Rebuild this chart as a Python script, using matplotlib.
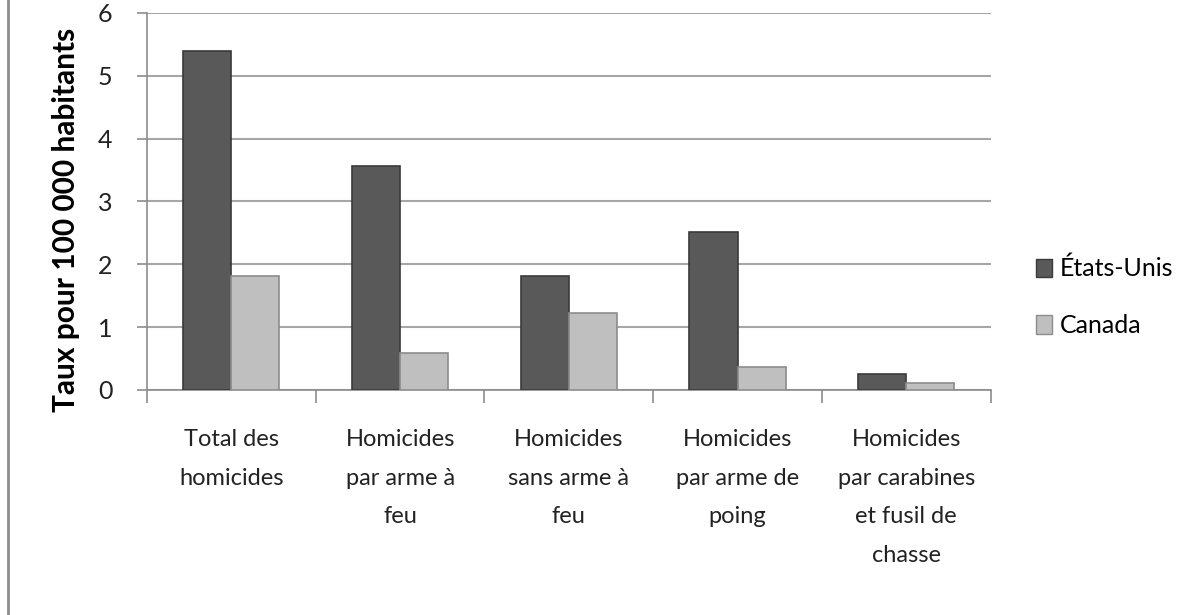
import numpy as np
import matplotlib.pyplot as plt
from matplotlib.lines import Line2D

plt.rcParams['font.family'] = ['Lato', 'DejaVu Sans']

# data
categories = ['Total des\nhomicides', 'Homicides\npar arme à\nfeu', 'Homicides\nsans arme à\nfeu',
              'Homicides\npar arme de\npoing', 'Homicides\npar carabines\net fusil de\nchasse']
us = [5.40, 3.56, 1.82, 2.52, 0.25]
canada = [1.82, 0.58, 1.23, 0.36, 0.11]
series_names = ['États-Unis', 'Canada']

fig = plt.figure(figsize=(11.95, 6.15), dpi=100)
ax = fig.add_axes([0.123, 0.366, 0.706, 0.613])

x = np.arange(len(categories))
w = 0.285
ax.bar(x - w / 2, us, w, color='#595959', edgecolor='#3a3a3a', linewidth=1.2,
       label=series_names[0], zorder=3)
ax.bar(x + w / 2, canada, w, color='#bfbfbf', edgecolor='#8c8c8c', linewidth=1.2,
       label=series_names[1], zorder=3)

ax.set_xlim(-0.5, len(categories) - 0.5)
ax.set_ylim(0, 6)
ax.set_yticks(range(7))
ax.yaxis.grid(True, color='#a6a6a6', linewidth=1.5, zorder=0)

# category boundary ticks on x
ax.set_xticks(np.arange(len(categories) + 1) - 0.5)
ax.set_xticklabels([])
ax.set_xticks(x, minor=True)
ax.set_xticklabels(categories, minor=True, fontsize=17, color='#222222', linespacing=2.05,
                   va='top')
ax.tick_params(axis='x', which='minor', length=0, pad=28)
ax.tick_params(axis='x', which='major', length=9, color='#8c8c8c', width=1.2)
ax.tick_params(axis='y', length=7, color='#8c8c8c', width=1.2, labelsize=18,
               labelcolor='#222222', pad=18)

for s in ['top', 'right']:
    ax.spines[s].set_visible(False)
for s in ['left', 'bottom']:
    ax.spines[s].set_color('#8c8c8c')
    ax.spines[s].set_linewidth(1.2)

ax.set_ylabel('Taux pour 100 000 habitants', fontsize=21.5, fontweight='bold')
ax.yaxis.set_label_coords(-0.079, 0.45)

handles = [plt.Rectangle((0, 0), 1, 1, facecolor='#595959', edgecolor='#3a3a3a'),
           plt.Rectangle((0, 0), 1, 1, facecolor='#bfbfbf', edgecolor='#8c8c8c')]
fig.legend(handles, series_names, loc='center left', bbox_to_anchor=(0.848, 0.517),
           frameon=False, fontsize=18, handlelength=0.65, handleheight=0.75,
           handletextpad=0.3, labelspacing=1.35)

# left frame border
fig.add_artist(Line2D([0.007, 0.007], [0, 1], color='#8c8c8c', linewidth=2))

fig.savefig('out.png', dpi=100)
